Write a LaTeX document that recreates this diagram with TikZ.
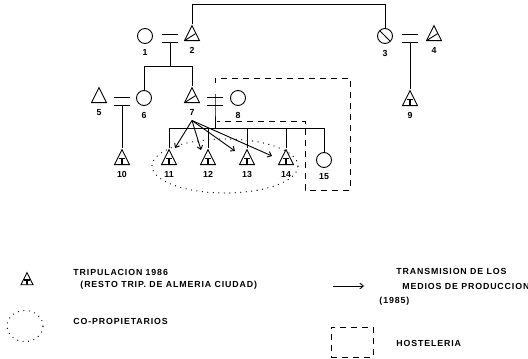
\documentclass[tikz,border=0pt]{standalone}
\usepackage{fontspec}
\setmainfont{Liberation Sans}
\newfontfamily\lgfont{Liberation Sans}[LetterSpace=10]
\usetikzlibrary{shapes.geometric,positioning,arrows.meta}

\begin{document}
\begin{tikzpicture}[x=1pt,y=-1pt,line width=0.9pt,
    every node/.style={inner sep=0pt},
    fem/.style={circle,draw,minimum size=15pt},
    slash/.style={path picture={\draw (path picture bounding box.north west) -- (path picture bounding box.south east);}},
    mal/.style={isosceles triangle,isosceles triangle stretches,shape border rotate=90,draw,minimum width=15pt,minimum height=15pt},
    malx/.style={mal,path picture={\draw (path picture bounding box.south west) -- ([xshift=3.6pt,yshift=-0.5pt]path picture bounding box.center);}},
    trip/.style={mal,path picture={\draw[line width=1.3pt] ([xshift=-3pt,yshift=-1.2pt]path picture bounding box.center) -- ++(6pt,0pt) ([yshift=-1.2pt]path picture bounding box.center) -- (path picture bounding box.south);}},
    eqs/.style={minimum width=16pt,minimum height=7pt},
    num/.style={font=\bfseries\fontsize{8.8}{10}\selectfont},
    lg/.style={font=\lgfont\bfseries\fontsize{8.8}{10}\selectfont,anchor=west},
    trans/.style={-{Straight Barb[angle=80:4.5pt]}},
    hoste/.style={dash pattern=on 6pt off 5pt},
    copro/.style={line cap=round,line width=1.3pt,dash pattern=on 0pt off 5.5pt}]
  \useasboundingbox (0,0) rectangle (528,359);

  \node[fem] (p1) at (145,36) {};
  \node[malx] (p2) at (192,36) {};
  \node[fem,slash] (p3) at (385,36) {};
  \node[malx] (p4) at (434,36) {};
  \node[mal] (p5) at (99,98) {};
  \node[fem] (p6) at (144,98) {};
  \node[malx] (p7) at (192,98) {};
  \node[fem] (p8) at (238,98) {};
  \node[trip] (p9) at (410,101) {};
  \node[trip] (p10) at (122,160) {};
  \node[trip] (p11) at (169,160) {};
  \node[trip] (p12) at (208,160) {};
  \node[trip] (p13) at (247,160) {};
  \node[trip] (p14) at (286,160) {};
  \node[fem] (p15) at (324,160) {};
  \foreach \i in {1,...,15}
    \node[num,below=5.5pt of p\i] (n\i) {\i};

  \node[eqs] (m12) at (170,38.5) {};
  \node[eqs] (m34) at (410,38.5) {};
  \node[eqs] (m56) at (122,101.5) {};
  \node[eqs] (m78) at (215,101.5) {};
  \foreach \m in {m12,m34,m56,m78}
    \draw (\m.north west) -- (\m.north east) (\m.south west) -- (\m.south east);

  \coordinate (top) at (0,4);
  \draw (p2.north) |- (p3.north |- top) -- (p3.north);
  \draw (m12.south) -- ++(0,24) coordinate (s12);
  \draw (p6.north) |- (s12) -| (p7.north);
  \draw (m34.south) -- (p9.north);
  \draw (m56.south) -- (p10.north);
  \draw ([yshift=4pt]m78.north) -- (m78.south) -- ++(0,23) coordinate (s78);
  \draw (p11.north) |- (s78) -| (p15.north);
  \foreach \i in {12,13,14}
    \draw (p\i.north) -- (p\i.north |- s78);

  \coordinate[below=5pt of n7] (a7);
  \coordinate (e11) at (175,148);
  \coordinate (e12) at (201,150);
  \coordinate (e13) at (235,151);
  \coordinate (e14) at (272,156);
  \foreach \i in {11,...,14}
    \draw[trans] (a7) -- (e\i);

  \draw[hoste] (215,83) -- (215,78) -- (350,78) -- (350,190) -- (305,190) -- (305,121) -- (217,121);
  \draw[copro] (225,166) ellipse [x radius=73pt,y radius=27pt];

  \node[trip,minimum width=12pt,minimum height=12pt] (lgt) at (27,281) {};
  \node[lg] (lt1) at (73,272) {TRIPULACION 1986};
  \node[lg] (lt2) at (80,285) {(RESTO TRIP. DE ALMERIA CIUDAD)};
  \node[ellipse,draw,copro,minimum width=36pt,minimum height=31pt] (lgc) at (25,326) {};
  \node[lg] (lt3) at (73,321) {CO-PROPIETARIOS};
  \coordinate (la1) at (333,286);
  \coordinate (la2) at (364,286);
  \draw[trans] (la1) -- (la2);
  \node[lg] (lt4) at (396,271) {TRANSMISION DE LOS};
  \node[lg] (lt5) at (402,286) {MEDIOS DE PRODUCCION};
  \node[lg] (lt6) at (379,301) {(1985)};
  \node[draw,hoste,minimum width=42pt,minimum height=30pt] (lgh) at (352,342) {};
  \node[lg] (lt7) at (396,343) {HOSTELERIA};
\end{tikzpicture}
\end{document}
